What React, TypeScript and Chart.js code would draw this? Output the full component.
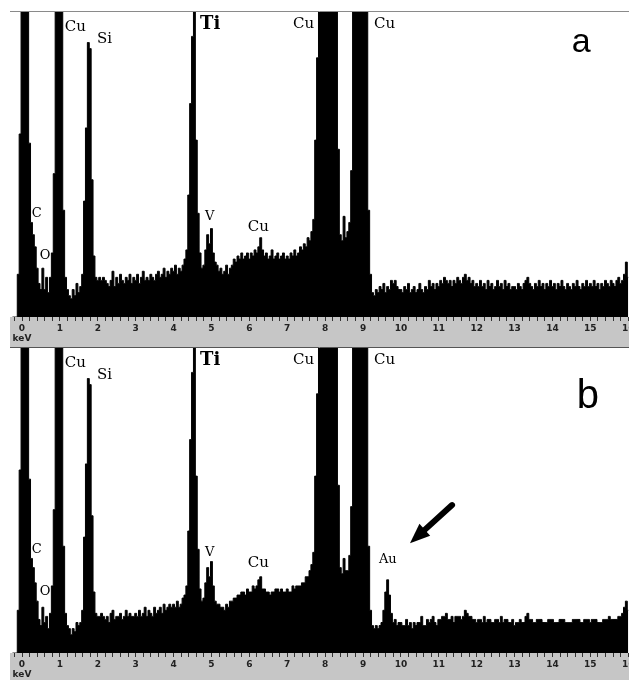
import React, { useEffect, useRef } from "react";
import { Chart, registerables } from "chart.js";

Chart.register(...registerables);

// ---- energy channels (keV) ----
const ENERGY_START = -0.25;
const ENERGY_STEP = 0.05;
const AXIS_MIN = -0.264;
const AXIS_MAX = 16.02;

// ---- spectrum (a): counts in % of displayed full scale, one value per 0.05 keV from -0.25 keV ----
const spectrumA = [
  0, 0, 0, 14, 60,
  100, 100, 100, 100, 57, 31, 27, 23, 16, 11, 9, 16, 9, 13, 8, 13, 21, 47, 100, 100,
  100, 100, 35, 13, 9, 7, 6, 9, 7, 11, 8, 10, 14, 38, 62, 90, 88, 45, 20, 13,
  12, 13, 12, 13, 12, 11, 10, 12, 15, 10, 13, 11, 14, 12, 11, 13, 12, 14, 11, 13,
  12, 14, 11, 13, 15, 12, 13, 12, 14, 13, 12, 14, 15, 13, 14, 16, 13, 15, 14, 16,
  15, 17, 14, 16, 15, 17, 19, 22, 40, 70, 92, 100, 58, 34, 21, 16, 17, 22, 27, 24,
  29, 21, 18, 17, 15, 16, 14, 15, 17, 14, 16, 17, 19, 18, 20, 19, 21, 19, 20, 21,
  19, 21, 20, 22, 21, 23, 26, 22, 20, 21, 19, 20, 22, 19, 20, 21, 19, 20, 21, 19,
  20, 19, 21, 20, 22, 20, 21, 23, 22, 24, 23, 26, 25, 28, 32, 58, 85, 100, 100, 100,
  100, 100, 100, 100, 100, 100, 100, 55, 27, 25, 33, 26, 28, 31, 48, 100, 100, 100, 100, 100,
  100, 100, 100, 35, 14, 8, 7, 9, 8, 10, 9, 11, 8, 10, 9, 12, 11, 12, 10, 9,
  9, 8, 10, 9, 11, 8, 9, 10, 8, 9, 11, 9, 8, 10, 9, 12, 10, 11, 9, 11,
  10, 12, 11, 13, 12, 11, 12, 10, 12, 11, 13, 12, 11, 13, 14, 12, 13, 11, 12, 10,
  11, 10, 12, 10, 11, 9, 12, 10, 11, 9, 10, 12, 10, 11, 9, 12, 10, 11, 9, 10,
  10, 9, 11, 10, 9, 11, 12, 13, 11, 10, 9, 11, 10, 12, 10, 11, 9, 11, 10, 12,
  10, 11, 9, 11, 10, 12, 10, 9, 11, 10, 9, 11, 10, 12, 10, 9, 11, 10, 12, 10,
  11, 10, 12, 10, 11, 9, 11, 10, 12, 11, 10, 12, 11, 10, 12, 13, 11, 12, 14, 18,
  13,
];

// ---- spectrum (b): same sample after treatment, with an Au L peak near 9.7 keV ----
const spectrumB = [
  0, 0, 0, 14, 60,
  100, 100, 100, 100, 57, 31, 28, 23, 17, 11, 9, 15, 10, 12, 8, 13, 22, 47, 100, 100,
  100, 100, 35, 13, 9, 8, 6, 8, 7, 10, 9, 10, 14, 38, 62, 90, 88, 45, 20, 13,
  12, 12, 13, 12, 11, 12, 10, 13, 14, 11, 12, 12, 13, 11, 12, 14, 12, 13, 12, 12,
  13, 12, 14, 12, 13, 15, 12, 14, 13, 12, 15, 13, 14, 15, 13, 16, 14, 15, 16, 15,
  16, 15, 17, 15, 16, 18, 19, 22, 40, 70, 92, 100, 58, 34, 21, 17, 18, 23, 28, 25,
  30, 22, 17, 16, 16, 15, 15, 14, 16, 15, 17, 17, 18, 18, 19, 19, 20, 20, 19, 21,
  20, 20, 22, 21, 22, 24, 25, 21, 21, 20, 20, 19, 20, 20, 21, 21, 20, 21, 20, 20,
  21, 20, 20, 22, 21, 22, 22, 22, 23, 23, 25, 25, 27, 29, 33, 58, 85, 100, 100, 100,
  100, 100, 100, 100, 100, 100, 100, 55, 28, 26, 31, 27, 27, 32, 48, 100, 100, 100, 100, 100,
  100, 100, 100, 35, 14, 9, 8, 9, 8, 9, 10, 14, 20, 24, 19, 13, 10, 11, 9, 10,
  10, 9, 9, 11, 9, 10, 8, 10, 9, 10, 10, 12, 9, 9, 11, 10, 11, 12, 10, 9,
  11, 11, 12, 12, 13, 11, 11, 12, 10, 12, 12, 12, 11, 12, 14, 13, 12, 12, 11, 11,
  10, 11, 11, 10, 12, 10, 11, 11, 10, 10, 11, 11, 10, 12, 10, 11, 11, 10, 10, 11,
  9, 10, 10, 11, 10, 10, 12, 13, 11, 11, 10, 10, 11, 11, 11, 10, 10, 10, 11, 11,
  11, 10, 10, 10, 11, 11, 11, 10, 10, 10, 10, 11, 11, 11, 11, 10, 10, 11, 11, 11,
  10, 11, 11, 11, 10, 10, 10, 11, 11, 11, 12, 11, 11, 11, 11, 12, 12, 13, 15, 17,
  14,
];

// ---- peak labels (element, energy keV, height %) ----
const peakLabelsA = ["C", "O", "Cu", "Si", "Ti", "V", "Cu", "Cu", "Cu"];
const peakEnergyA = [0.26, 0.47, 1.13, 1.98, 4.7, 4.83, 5.96, 7.15, 9.29];
const peakHeightA = [34, 20, 95, 91, 96, 33, 29.5, 96, 96];

const peakLabelsB = ["C", "O", "Cu", "Si", "Ti", "V", "Cu", "Cu", "Cu", "Au"];
const peakEnergyB = [0.26, 0.47, 1.13, 1.98, 4.7, 4.83, 5.96, 7.15, 9.29, 9.42];
const peakHeightB = [34, 20, 95, 91, 96, 33, 29.5, 96, 96, 30.5];

// ---- panel letters and arrow (data coordinates) ----
const panelLetters = ["a", "b"];
const panelLetterEnergy = [14.51, 14.64];
const panelLetterHeight = [86.9, 80.3];
const arrowTail = [11.35, 48.5];
const arrowTip = [10.24, 36];

const BAR_GRAY = "#c6c6c6";

function labelFont(t: string) {
  if (t === "Ti") return "bold 18px 'DejaVu Serif'";
  if (t === "Cu" || t === "Si") return "15px 'DejaVu Serif'";
  return "13px 'DejaVu Serif'";
}

function buildPoints(values: number[]) {
  return values.map((v, i) => ({ x: ENERGY_START + i * ENERGY_STEP, y: v }));
}

type PanelProps = {
  values: number[];
  labels: string[];
  energies: number[];
  heights: number[];
  panelIndex: number;
  showArrow: boolean;
  top: number;
  height: number;
  padTop: number;
  borderColor: string;
  letterSize: number;
};

function Panel(p: PanelProps) {
  const ref = useRef<HTMLCanvasElement | null>(null);
  useEffect(() => {
    if (!ref.current) return;
    const overlay = {
      id: "overlay",
      beforeDraw(chart: any) {
        const { ctx, chartArea } = chart;
        ctx.save();
        ctx.fillStyle = "#ffffff";
        ctx.fillRect(0, 0, chart.width, chart.height);
        ctx.fillStyle = BAR_GRAY;
        ctx.fillRect(chartArea.left - 2, chartArea.bottom, chart.width - chartArea.left + 2, chart.height - chartArea.bottom);
        ctx.strokeStyle = p.borderColor;
        ctx.lineWidth = 1;
        ctx.beginPath();
        ctx.moveTo(chartArea.left - 2, chartArea.top - 0.5);
        ctx.lineTo(chart.width, chartArea.top - 0.5);
        ctx.stroke();
        ctx.restore();
      },
      afterDatasetsDraw(chart: any) {
        const { ctx } = chart;
        const xs = chart.scales.x;
        const ys = chart.scales.y;
        ctx.save();
        ctx.fillStyle = "#000";
        ctx.textAlign = "left";
        ctx.textBaseline = "middle";
        p.labels.forEach((t, i) => {
          ctx.font = labelFont(t);
          ctx.fillText(t, xs.getPixelForValue(p.energies[i]), ys.getPixelForValue(p.heights[i]));
        });
        ctx.font = `${p.letterSize}px 'Liberation Sans'`;
        ctx.textBaseline = "alphabetic";
        ctx.fillText(
          panelLetters[p.panelIndex],
          xs.getPixelForValue(panelLetterEnergy[p.panelIndex]),
          ys.getPixelForValue(panelLetterHeight[p.panelIndex])
        );
        if (p.showArrow) {
          const sx = xs.getPixelForValue(arrowTail[0]);
          const sy = ys.getPixelForValue(arrowTail[1]);
          const tx = xs.getPixelForValue(arrowTip[0]);
          const ty = ys.getPixelForValue(arrowTip[1]);
          const ang = Math.atan2(ty - sy, tx - sx);
          const headLen = 20;
          const headHalf = 8;
          const c = Math.cos(ang);
          const s = Math.sin(ang);
          const bx = tx - headLen * c;
          const by = ty - headLen * s;
          ctx.strokeStyle = "#000";
          ctx.lineWidth = 6;
          ctx.lineCap = "round";
          ctx.beginPath();
          ctx.moveTo(sx, sy);
          ctx.lineTo(bx + 2 * c, by + 2 * s);
          ctx.stroke();
          ctx.beginPath();
          ctx.moveTo(tx, ty);
          ctx.lineTo(bx + headHalf * s, by - headHalf * c);
          ctx.lineTo(bx - headHalf * s, by + headHalf * c);
          ctx.closePath();
          ctx.fill();
        }
        ctx.restore();
      },
    };

    const chart = new Chart(ref.current, {
      type: "line",
      data: {
        datasets: [
          {
            data: buildPoints(p.values),
            borderColor: "#000",
            backgroundColor: "#000",
            borderWidth: 1,
            pointRadius: 0,
            fill: "origin",
            stepped: "middle",
          } as any,
        ],
      },
      options: {
        responsive: false,
        animation: false,
        events: [],
        layout: { padding: { left: 12, top: p.padTop, right: 0, bottom: 0 } },
        plugins: { legend: { display: false }, tooltip: { enabled: false }, title: { display: false } },
        scales: {
          x: {
            type: "linear",
            min: AXIS_MIN,
            max: AXIS_MAX,
            border: { display: false },
            grid: { drawOnChartArea: false, drawTicks: true, tickLength: 4, tickColor: "#333", tickWidth: 1 },
            ticks: {
              stepSize: 0.2,
              includeBounds: false,
              autoSkip: false,
              maxRotation: 0,
              minRotation: 0,
              padding: 2,
              color: "#222",
              font: { family: "DejaVu Sans", size: 9, weight: "bold", lineHeight: 1.15 },
              callback: (v: any) => {
                const n = Number(v);
                const r = Math.round(n);
                if (Math.abs(n - r) > 1e-6) return "";
                return r === 0 ? ["0", "keV"] : String(r);
              },
            },
            afterFit: (s: any) => {
              s.height = 30;
              s.paddingLeft = 0;
              s.paddingRight = 0;
            },
          } as any,
          y: { type: "linear", display: false, min: 0, max: 100 },
        },
      },
      plugins: [overlay as any],
    });
    return () => chart.destroy();
  }, []);
  return (
    <canvas
      ref={ref}
      width={629}
      height={p.height}
      style={{ position: "absolute", left: 0, top: p.top, width: 629, height: p.height, display: "block" }}
    />
  );
}

export default function App() {
  return (
    <div style={{ position: "absolute", left: 0, top: 0, width: 629, height: 680, overflow: "hidden", background: "#fff" }}>
      <Panel
        values={spectrumA}
        labels={peakLabelsA}
        energies={peakEnergyA}
        heights={peakHeightA}
        panelIndex={0}
        showArrow={false}
        top={0}
        height={347}
        padTop={12}
        borderColor="#8a8a8a"
        letterSize={34}
      />
      <Panel
        values={spectrumB}
        labels={peakLabelsB}
        energies={peakEnergyB}
        heights={peakHeightB}
        panelIndex={1}
        showArrow={true}
        top={347}
        height={336}
        padTop={1}
        borderColor="#555"
        letterSize={40}
      />
    </div>
  );
}
